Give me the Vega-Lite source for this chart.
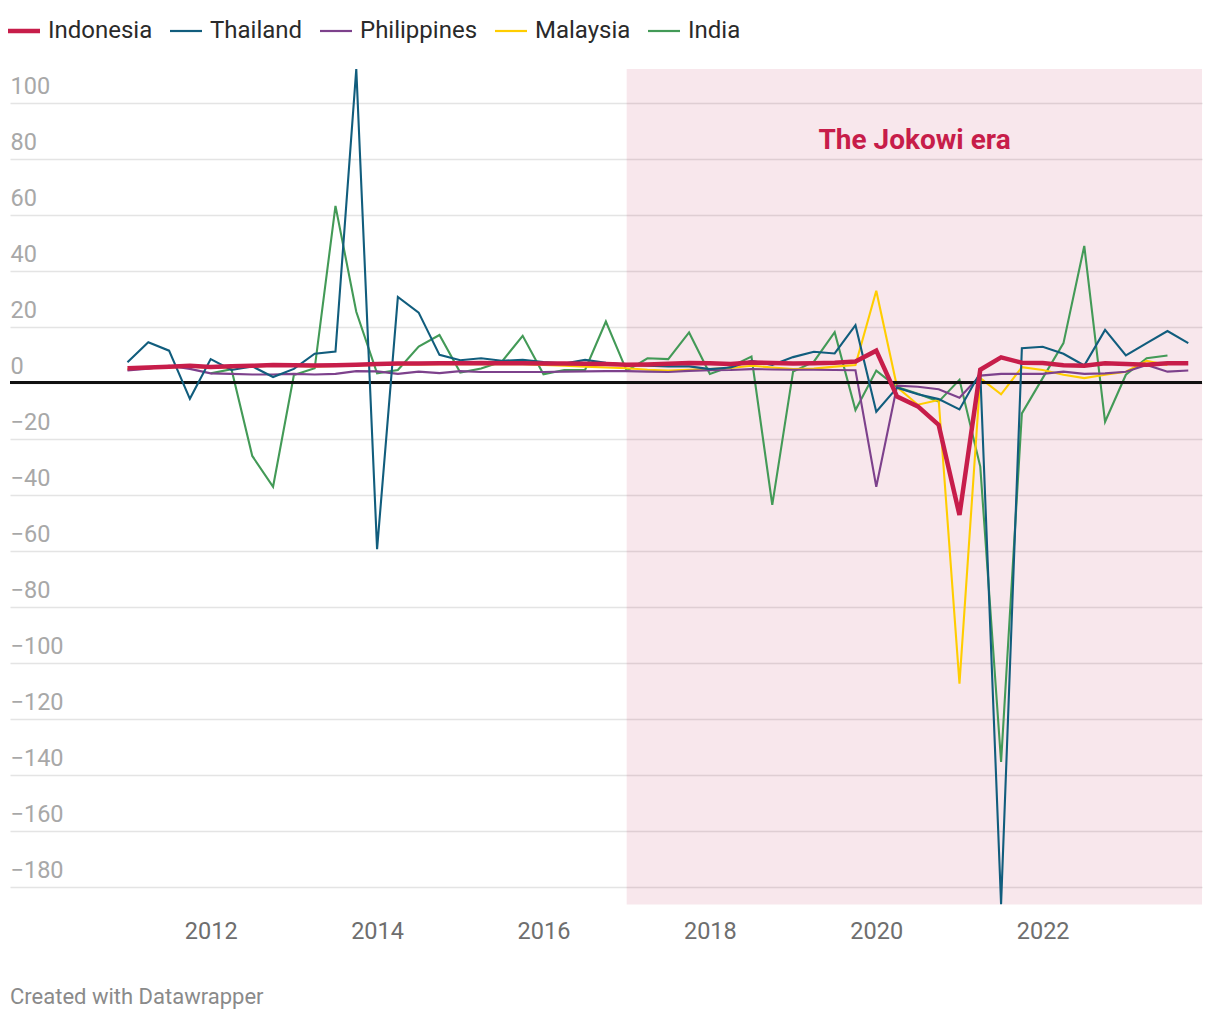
{
  "$schema": "https://vega.github.io/schema/vega-lite/v6.json",
  "width": 1192,
  "height": 835.5,
  "autosize": {"type": "none"},
  "padding": {"left": 10, "top": 69, "right": 18, "bottom": 115.5},
  "background": "white",
  "config": {
    "view": {"stroke": null},
    "font": "Roboto",
    "axisX": {"ticks": false, "domain": false, "grid": false, "labelFontSize": 23.5, "labelColor": "#6e6e6e", "labelBaseline": "alphabetic", "labelPadding": 34, "labelFlush": false, "labelOverlap": false},
    "axisY": {"ticks": false, "domain": false, "grid": true, "gridColor": "#e4e4e4", "gridWidth": 1.6, "labelAlign": "left", "labelBaseline": "alphabetic", "labelPadding": 0, "labelOffset": -9, "labelFontSize": 23.5, "labelColor": "#a8a8a8", "labelOverlap": false, "labelFlush": false},
    "legend": {"direction": "horizontal", "symbolType": "stroke", "symbolSize": 1024, "symbolStrokeWidth": 2.2, "labelFontSize": 24, "labelColor": "#2a2a2a", "labelOffset": 12, "columnPadding": 12, "padding": 0}
  },
  "title": {"text": "Created with Datawrapper", "orient": "bottom", "anchor": "start", "fontSize": 22, "fontWeight": "normal", "color": "#8a8a8a", "offset": 44, "frame": "group"},
  "data": {"values": [
    {"t": 2011, "Indonesia": 5.1, "Thailand": 7.3, "Philippines": 4.3, "Malaysia": 4.8, "India": null},
    {"t": 2011.25, "Indonesia": 5.4, "Thailand": 14.4, "Philippines": 5.0, "Malaysia": 5.1, "India": null},
    {"t": 2011.5, "Indonesia": 5.7, "Thailand": 11.4, "Philippines": 6.0, "Malaysia": 5.4, "India": null},
    {"t": 2011.75, "Indonesia": 6.0, "Thailand": -5.8, "Philippines": 4.9, "Malaysia": 5.7, "India": null},
    {"t": 2012, "Indonesia": 5.6, "Thailand": 8.4, "Philippines": 3.3, "Malaysia": 5.3, "India": 3.3},
    {"t": 2012.25, "Indonesia": 5.8, "Thailand": 4.5, "Philippines": 3.1, "Malaysia": 5.5, "India": 4.8},
    {"t": 2012.5, "Indonesia": 6.0, "Thailand": 5.8, "Philippines": 2.9, "Malaysia": 5.7, "India": -26.2},
    {"t": 2012.75, "Indonesia": 6.3, "Thailand": 2.0, "Philippines": 2.9, "Malaysia": 6.0, "India": -37.2},
    {"t": 2013, "Indonesia": 6.2, "Thailand": 4.9, "Philippines": 3.1, "Malaysia": 5.9, "India": 2.7},
    {"t": 2013.25, "Indonesia": 6.1, "Thailand": 10.3, "Philippines": 2.9, "Malaysia": 5.8, "India": 5.1},
    {"t": 2013.5, "Indonesia": 6.2, "Thailand": 11.1, "Philippines": 3.1, "Malaysia": 5.9, "India": 63.1},
    {"t": 2013.75, "Indonesia": 6.4, "Thailand": 112.0, "Philippines": 4.1, "Malaysia": 6.1, "India": 25.3},
    {"t": 2014, "Indonesia": 6.6, "Thailand": -59.5, "Philippines": 4.0, "Malaysia": 6.3, "India": 3.3},
    {"t": 2014.25, "Indonesia": 6.8, "Thailand": 30.6, "Philippines": 3.1, "Malaysia": 6.5, "India": 4.5},
    {"t": 2014.5, "Indonesia": 6.8, "Thailand": 25.0, "Philippines": 3.9, "Malaysia": 6.5, "India": 12.9},
    {"t": 2014.75, "Indonesia": 6.9, "Thailand": 9.9, "Philippines": 3.4, "Malaysia": 6.6, "India": 17.0},
    {"t": 2015, "Indonesia": 6.9, "Thailand": 8.0, "Philippines": 4.1, "Malaysia": 6.6, "India": 3.6},
    {"t": 2015.25, "Indonesia": 7.0, "Thailand": 8.7, "Philippines": 3.8, "Malaysia": 6.7, "India": 5.0},
    {"t": 2015.5, "Indonesia": 6.9, "Thailand": 7.8, "Philippines": 3.8, "Malaysia": 6.6, "India": 7.5},
    {"t": 2015.75, "Indonesia": 6.9, "Thailand": 8.1, "Philippines": 3.8, "Malaysia": 6.6, "India": 16.7},
    {"t": 2016, "Indonesia": 6.8, "Thailand": 7.3, "Philippines": 3.8, "Malaysia": 6.3, "India": 3.0},
    {"t": 2016.25, "Indonesia": 6.8, "Thailand": 6.8, "Philippines": 3.9, "Malaysia": 6.0, "India": 4.5},
    {"t": 2016.5, "Indonesia": 6.7, "Thailand": 8.1, "Philippines": 4.0, "Malaysia": 5.7, "India": 4.5},
    {"t": 2016.75, "Indonesia": 6.6, "Thailand": 7.1, "Philippines": 4.1, "Malaysia": 5.4, "India": 21.8},
    {"t": 2017, "Indonesia": 6.4, "Thailand": 6.4, "Philippines": 4.1, "Malaysia": 5.1, "India": 4.2},
    {"t": 2017.25, "Indonesia": 6.5, "Thailand": 6.0, "Philippines": 3.9, "Malaysia": 4.6, "India": 8.7},
    {"t": 2017.5, "Indonesia": 6.7, "Thailand": 5.8, "Philippines": 3.8, "Malaysia": 4.3, "India": 8.4},
    {"t": 2017.75, "Indonesia": 7.0, "Thailand": 5.8, "Philippines": 4.2, "Malaysia": 4.6, "India": 17.9},
    {"t": 2018, "Indonesia": 6.9, "Thailand": 4.8, "Philippines": 4.4, "Malaysia": 4.8, "India": 3.1},
    {"t": 2018.25, "Indonesia": 6.6, "Thailand": 5.4, "Philippines": 4.5, "Malaysia": 5.2, "India": 5.7},
    {"t": 2018.5, "Indonesia": 7.2, "Thailand": 7.8, "Philippines": 4.8, "Malaysia": 6.0, "India": 9.3},
    {"t": 2018.75, "Indonesia": 7.0, "Thailand": 6.3, "Philippines": 4.7, "Malaysia": 5.4, "India": -43.7},
    {"t": 2019, "Indonesia": 6.8, "Thailand": 9.1, "Philippines": 4.6, "Malaysia": 4.8, "India": 3.9},
    {"t": 2019.25, "Indonesia": 6.9, "Thailand": 11.0, "Philippines": 4.6, "Malaysia": 5.0, "India": 7.5},
    {"t": 2019.5, "Indonesia": 7.1, "Thailand": 10.4, "Philippines": 4.5, "Malaysia": 5.7, "India": 18.0},
    {"t": 2019.75, "Indonesia": 7.5, "Thailand": 20.5, "Philippines": 4.4, "Malaysia": 6.3, "India": -9.8},
    {"t": 2020, "Indonesia": 11.4, "Thailand": -10.4, "Philippines": -37.2, "Malaysia": 32.8, "India": 4.3},
    {"t": 2020.25, "Indonesia": -5.0, "Thailand": -1.8, "Philippines": -1.1, "Malaysia": -1.6, "India": -1.6},
    {"t": 2020.5, "Indonesia": -8.5, "Thailand": -4.2, "Philippines": -1.5, "Malaysia": -7.9, "India": -4.0},
    {"t": 2020.75, "Indonesia": -15.1, "Thailand": -5.9, "Philippines": -2.4, "Malaysia": -6.2, "India": -6.8},
    {"t": 2021, "Indonesia": -47.3, "Thailand": -9.6, "Philippines": -5.4, "Malaysia": -107.5, "India": 1.0},
    {"t": 2021.25, "Indonesia": 4.6, "Thailand": 3.6, "Philippines": 2.5, "Malaysia": 1.6, "India": -30.0},
    {"t": 2021.5, "Indonesia": 9.0, "Thailand": -186.3, "Philippines": 3.1, "Malaysia": -4.2, "India": -135.5},
    {"t": 2021.75, "Indonesia": 7.1, "Thailand": 12.3, "Philippines": 3.1, "Malaysia": 5.5, "India": -11.0},
    {"t": 2022, "Indonesia": 7.0, "Thailand": 12.8, "Philippines": 3.1, "Malaysia": 4.5, "India": 1.6},
    {"t": 2022.25, "Indonesia": 6.2, "Thailand": 10.3, "Philippines": 3.9, "Malaysia": 2.8, "India": 14.1},
    {"t": 2022.5, "Indonesia": 6.0, "Thailand": 6.1, "Philippines": 3.1, "Malaysia": 1.6, "India": 48.8},
    {"t": 2022.75, "Indonesia": 6.9, "Thailand": 18.8, "Philippines": 3.3, "Malaysia": 2.8, "India": -14.0},
    {"t": 2023, "Indonesia": 6.6, "Thailand": 9.7, "Philippines": 3.9, "Malaysia": 3.9, "India": 2.8},
    {"t": 2023.25, "Indonesia": 6.4, "Thailand": 14.1, "Philippines": 6.3, "Malaysia": 7.8, "India": 8.7},
    {"t": 2023.5, "Indonesia": 6.9, "Thailand": 18.4, "Philippines": 3.9, "Malaysia": 6.3, "India": 9.7},
    {"t": 2023.75, "Indonesia": 6.9, "Thailand": 14.1, "Philippines": 4.3, "Malaysia": null, "India": null}
  ]},
  "layer": [
    {
      "data": {"values": [{"t": 2017, "t2": 2023.915}]},
      "mark": {"type": "rect", "fill": "#b90f41", "opacity": 0.1},
      "encoding": {
        "x": {"field": "t", "type": "quantitative", "scale": {"domain": [2009.588, 2023.915], "nice": false, "zero": false}, "title": null, "axis": {"values": [2012, 2014, 2016, 2018, 2020, 2022], "format": "d"}},
        "x2": {"field": "t2"}
      }
    },
    {
      "mark": {"type": "line", "color": "#439a57", "strokeWidth": 2.1},
      "encoding": {
        "x": {"field": "t", "type": "quantitative", "scale": {"domain": [2009.588, 2023.915], "nice": false, "zero": false}, "title": null, "axis": {"values": [2012, 2014, 2016, 2018, 2020, 2022], "format": "d"}},
        "y": {"field": "India", "type": "quantitative", "scale": {"domain": [-186.4, 112], "nice": false, "zero": false}, "title": null, "axis": {"values": [-180, -160, -140, -120, -100, -80, -60, -40, -20, 0, 20, 40, 60, 80, 100], "format": "d"}},
        "color": {"datum": "India", "type": "nominal", "scale": {"domain": ["Indonesia", "Thailand", "Philippines", "Malaysia", "India"], "range": ["#c71d4a", "#115d7d", "#7d418c", "#ffcd00", "#439a57"]}, "legend": {"orient": "none", "legendX": 2, "legendY": -50, "title": null, "encode": {"symbols": {"update": {"strokeWidth": {"signal": "datum.value === 'Indonesia' ? 4.5 : 2.2"}}}}}}
      }
    },
    {
      "mark": {"type": "line", "strokeWidth": 2.1},
      "encoding": {
        "x": {"field": "t", "type": "quantitative", "scale": {"domain": [2009.588, 2023.915], "nice": false, "zero": false}, "title": null, "axis": {"values": [2012, 2014, 2016, 2018, 2020, 2022], "format": "d"}},
        "y": {"field": "Malaysia", "type": "quantitative", "scale": {"domain": [-186.4, 112], "nice": false, "zero": false}, "title": null, "axis": {"values": [-180, -160, -140, -120, -100, -80, -60, -40, -20, 0, 20, 40, 60, 80, 100], "format": "d"}},
        "color": {"datum": "Malaysia", "type": "nominal", "scale": {"domain": ["Indonesia", "Thailand", "Philippines", "Malaysia", "India"], "range": ["#c71d4a", "#115d7d", "#7d418c", "#ffcd00", "#439a57"]}, "legend": {"orient": "none", "legendX": 2, "legendY": -50, "title": null, "encode": {"symbols": {"update": {"strokeWidth": {"signal": "datum.value === 'Indonesia' ? 4.5 : 2.2"}}}}}}
      }
    },
    {
      "mark": {"type": "line", "strokeWidth": 2.1},
      "encoding": {
        "x": {"field": "t", "type": "quantitative", "scale": {"domain": [2009.588, 2023.915], "nice": false, "zero": false}, "title": null, "axis": {"values": [2012, 2014, 2016, 2018, 2020, 2022], "format": "d"}},
        "y": {"field": "Philippines", "type": "quantitative", "scale": {"domain": [-186.4, 112], "nice": false, "zero": false}, "title": null, "axis": {"values": [-180, -160, -140, -120, -100, -80, -60, -40, -20, 0, 20, 40, 60, 80, 100], "format": "d"}},
        "color": {"datum": "Philippines", "type": "nominal", "scale": {"domain": ["Indonesia", "Thailand", "Philippines", "Malaysia", "India"], "range": ["#c71d4a", "#115d7d", "#7d418c", "#ffcd00", "#439a57"]}, "legend": {"orient": "none", "legendX": 2, "legendY": -50, "title": null, "encode": {"symbols": {"update": {"strokeWidth": {"signal": "datum.value === 'Indonesia' ? 4.5 : 2.2"}}}}}}
      }
    },
    {
      "mark": {"type": "rule", "color": "#111111", "strokeWidth": 2},
      "encoding": {
        "y": {"datum": 0, "type": "quantitative", "scale": {"domain": [-186.4, 112], "nice": false, "zero": false}, "title": null, "axis": {"values": [-180, -160, -140, -120, -100, -80, -60, -40, -20, 0, 20, 40, 60, 80, 100], "format": "d"}}
      }
    },
    {
      "mark": {"type": "line", "strokeWidth": 2.1},
      "encoding": {
        "x": {"field": "t", "type": "quantitative", "scale": {"domain": [2009.588, 2023.915], "nice": false, "zero": false}, "title": null, "axis": {"values": [2012, 2014, 2016, 2018, 2020, 2022], "format": "d"}},
        "y": {"field": "Thailand", "type": "quantitative", "scale": {"domain": [-186.4, 112], "nice": false, "zero": false}, "title": null, "axis": {"values": [-180, -160, -140, -120, -100, -80, -60, -40, -20, 0, 20, 40, 60, 80, 100], "format": "d"}},
        "color": {"datum": "Thailand", "type": "nominal", "scale": {"domain": ["Indonesia", "Thailand", "Philippines", "Malaysia", "India"], "range": ["#c71d4a", "#115d7d", "#7d418c", "#ffcd00", "#439a57"]}, "legend": {"orient": "none", "legendX": 2, "legendY": -50, "title": null, "encode": {"symbols": {"update": {"strokeWidth": {"signal": "datum.value === 'Indonesia' ? 4.5 : 2.2"}}}}}}
      }
    },
    {
      "mark": {"type": "line", "strokeWidth": 4.5},
      "encoding": {
        "x": {"field": "t", "type": "quantitative", "scale": {"domain": [2009.588, 2023.915], "nice": false, "zero": false}, "title": null, "axis": {"values": [2012, 2014, 2016, 2018, 2020, 2022], "format": "d"}},
        "y": {"field": "Indonesia", "type": "quantitative", "scale": {"domain": [-186.4, 112], "nice": false, "zero": false}, "title": null, "axis": {"values": [-180, -160, -140, -120, -100, -80, -60, -40, -20, 0, 20, 40, 60, 80, 100], "format": "d"}},
        "color": {"datum": "Indonesia", "type": "nominal", "scale": {"domain": ["Indonesia", "Thailand", "Philippines", "Malaysia", "India"], "range": ["#c71d4a", "#115d7d", "#7d418c", "#ffcd00", "#439a57"]}, "legend": {"orient": "none", "legendX": 2, "legendY": -50, "title": null, "encode": {"symbols": {"update": {"strokeWidth": {"signal": "datum.value === 'Indonesia' ? 4.5 : 2.2"}}}}}}
      }
    },
    {
      "data": {"values": [{"t": 2020.46, "v": 86.3, "label": "The Jokowi era"}]},
      "mark": {"type": "text", "align": "center", "baseline": "middle", "fontSize": 28, "fontWeight": "bold", "color": "#c71d4a"},
      "encoding": {
        "x": {"field": "t", "type": "quantitative", "scale": {"domain": [2009.588, 2023.915], "nice": false, "zero": false}, "title": null, "axis": {"values": [2012, 2014, 2016, 2018, 2020, 2022], "format": "d"}},
        "y": {"field": "v", "type": "quantitative", "scale": {"domain": [-186.4, 112], "nice": false, "zero": false}, "title": null, "axis": {"values": [-180, -160, -140, -120, -100, -80, -60, -40, -20, 0, 20, 40, 60, 80, 100], "format": "d"}},
        "text": {"field": "label"}
      }
    }
  ]
}
